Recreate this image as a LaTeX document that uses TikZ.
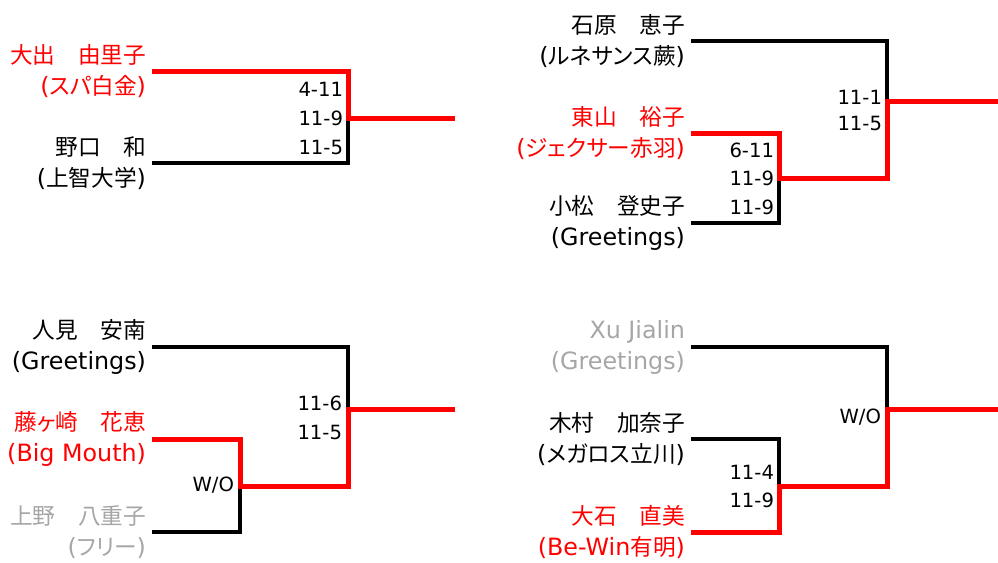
\documentclass[tikz,border=0pt]{standalone}
\usepackage{fontspec}
\setmainfont{DejaVu Sans}[Scale=1.05]
\newfontfamily\jpfont{Noto Sans CJK JP}
\newfontfamily\kanafont{Noto Sans CJK JP}[RawFeature=+palt]
\usepackage{tikz}
\definecolor{winred}{RGB}{255,0,0}
\definecolor{wogray}{RGB}{166,166,166}

\begin{document}
\begin{tikzpicture}[x=0.75pt,y=-0.75pt,
	player/.style={anchor=east,align=right,inner xsep=4.5pt,inner ysep=0pt,outer sep=0pt,font=\fontsize{17}{23.25}\selectfont},
	score/.style={anchor=east,inner sep=0pt,outer sep=0pt,font=\fontsize{14}{17}\selectfont},
	lose/.style={line width=2.6pt,black},
	win/.style={line width=3.75pt,winred}]
	\useasboundingbox (0,0) rectangle (998,562);

	% top left
	\node[player,text=winred] (a1) at (152,71) {{\jpfont 大出　由里子}\\({\kanafont スパ白金})};
	\node[player] (a2) at (152,163) {{\jpfont 野口　和}\\({\jpfont 上智大学})};
	\coordinate (ja) at (348,118);
	\coordinate (oa) at (455,118);
	\draw[lose] (a2.east) -| (ja);
	\draw[win] (a1.east) -| (ja) -- (oa);
	\node[score] (sa1) at (343,89) {4-11};
	\node[score] (sa2) at (343,118) {11-9};
	\node[score] (sa3) at (343,147) {11-5};

	% top right
	\node[player] (b1) at (691,41) {{\jpfont 石原　恵子}\\({\kanafont ルネサンス蕨})};
	\node[player,text=winred] (b2) at (691,133) {{\jpfont 東山　裕子}\\({\kanafont ジェクサー赤羽})};
	\node[player] (b3) at (691,223) {{\jpfont 小松　登史子}\\(Greetings)};
	\coordinate (jb1) at (779,178);
	\coordinate (jb2) at (887,101);
	\coordinate (ob) at (998,101);
	\draw[lose] (b3.east) -| (jb1);
	\draw[lose] (b1.east) -| (jb2);
	\draw[win] (b2.east) -| (jb1) -| (jb2) -- (ob);
	\node[score] (sb1) at (882,97) {11-1};
	\node[score] (sb2) at (882,123) {11-5};
	\node[score] (sb3) at (774,150) {6-11};
	\node[score] (sb4) at (774,178) {11-9};
	\node[score] (sb5) at (774,207) {11-9};

	% bottom left
	\node[player] (c1) at (152,347) {{\jpfont 人見　安南}\\(Greetings)};
	\node[player,text=winred] (c2) at (152,439) {{\jpfont 藤{\kanafont ヶ}崎　花恵}\\(Big Mouth)};
	\node[player,text=wogray] (c3) at (152,532) {{\jpfont 上野　八重子}\\({\kanafont フリー})};
	\coordinate (jc1) at (240,486);
	\coordinate (jc2) at (348,409);
	\coordinate (oc) at (455,409);
	\draw[lose] (c3.east) -| (jc1);
	\draw[lose] (c1.east) -| (jc2);
	\draw[win] (c2.east) -| (jc1) -| (jc2) -- (oc);
	\node[score] (sc1) at (342,403) {11-6};
	\node[score] (sc2) at (342,432) {11-5};
	\node[score] (sc3) at (234,485) {W/O};

	% bottom right
	\node[player,text=wogray] (d1) at (691,347) {Xu Jialin\\(Greetings)};
	\node[player] (d2) at (691,439) {{\jpfont 木村　加奈子}\\({\kanafont メガロス立川})};
	\node[player,text=winred] (d3) at (691,532) {{\jpfont 大石　直美}\\(Be-Win{\jpfont 有明})};
	\coordinate (jd1) at (779,486);
	\coordinate (jd2) at (887,409);
	\coordinate (od) at (998,409);
	\draw[lose] (d2.east) -| (jd1);
	\draw[lose] (d1.east) -| (jd2);
	\draw[win] (d3.east) -| (jd1) -| (jd2) -- (od);
	\node[score] (sd1) at (881,417) {W/O};
	\node[score] (sd2) at (774,472) {11-4};
	\node[score] (sd3) at (774,500) {11-9};
\end{tikzpicture}
\end{document}
